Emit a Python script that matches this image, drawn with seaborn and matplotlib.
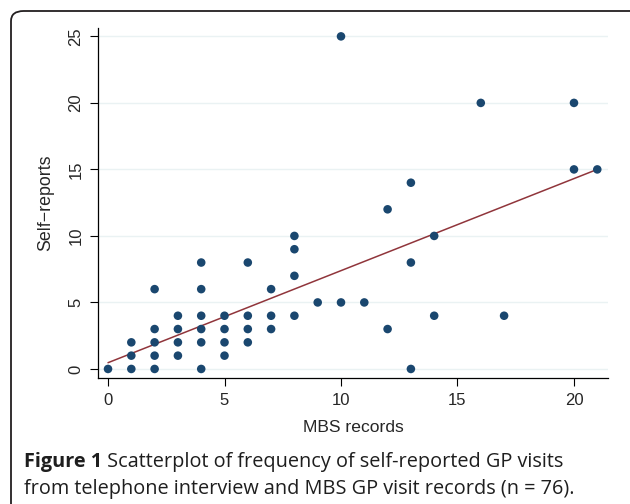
import matplotlib
matplotlib.use("Agg")
import matplotlib.pyplot as plt
import seaborn as sns
import numpy as np
import pandas as pd
from matplotlib.patches import FancyBboxPatch

# ---- data ----
mbs_records = [0, 1, 1, 1, 2, 2, 2, 2, 2, 3, 3, 3, 3,
               4, 4, 4, 4, 4, 4, 5, 5, 5, 5, 6, 6, 6, 6,
               7, 7, 7, 8, 8, 8, 8, 9, 10, 10, 11, 12, 12,
               13, 13, 13, 14, 14, 16, 17, 20, 20, 21]
self_reports = [0, 0, 1, 2, 0, 1, 2, 3, 6, 1, 2, 3, 4,
                0, 2, 3, 4, 6, 8, 1, 2, 3, 4, 2, 3, 4, 8,
                3, 4, 6, 4, 7, 9, 10, 5, 5, 25, 5, 3, 12,
                0, 8, 14, 4, 10, 20, 4, 15, 20, 15]
fit_intercept = 0.47
fit_slope = 0.692
fit_x_range = [0, 21]
x_ticks = [0, 5, 10, 15, 20]
y_ticks = [0, 5, 10, 15, 20, 25]
x_label = "MBS records"
y_label = "Self\u2212reports"
caption_bold = "Figure 1"
caption_line1 = " Scatterplot of frequency of self-reported GP visits"
caption_line2 = "from telephone interview and MBS GP visit records (n = 76)."

df = pd.DataFrame({"mbs": mbs_records, "self": self_reports})
fit_df = pd.DataFrame({"x": fit_x_range,
                       "y": [fit_intercept + fit_slope * v for v in fit_x_range]})

sns.set_theme(style="white")
plt.rcParams["font.family"] = ["Liberation Sans", "DejaVu Sans"]

W, H = 630, 504
fig = plt.figure(figsize=(W / 100, H / 100), dpi=100)

def px(x0, y0, x1, y1):
    return [x0 / W, 1 - y1 / H, (x1 - x0) / W, (y1 - y0) / H]

ax = fig.add_axes(px(98, 28, 608, 378))

navy = "#1a476f"
maroon = "#90353b"
grid_c = "#eaf2f3"

for yv in y_ticks:
    ax.axhline(yv, color=grid_c, lw=1.0, zorder=0)

sns.lineplot(data=fit_df, x="x", y="y", ax=ax, color=maroon, lw=1.1, zorder=2)
sns.scatterplot(data=df, x="mbs", y="self", ax=ax, color=navy, s=38,
                edgecolor="none", linewidth=0, zorder=3)

ax.set_xlim(-0.43, 21.46)
ax.set_ylim(-0.68, 25.63)
ax.set_xticks(x_ticks)
ax.set_yticks(y_ticks)
ax.set_xticklabels([str(v) for v in x_ticks], fontsize=12)
ax.set_yticklabels([str(v) for v in y_ticks], fontsize=12, rotation=90, va="center")
ax.tick_params(axis="both", direction="out", length=5.5, width=0.8, color="black",
               bottom=True, left=True, pad=5)
ax.set_xlabel(x_label, fontsize=12.6, labelpad=9)
ax.set_ylabel(y_label, fontsize=12.8, labelpad=10)
for side in ["top", "right"]:
    ax.spines[side].set_visible(False)
for side in ["left", "bottom"]:
    ax.spines[side].set_color("black")
    ax.spines[side].set_linewidth(0.9)
ax.grid(False)

# frame around figure
frame = FancyBboxPatch((11 / W, -0.2), 1.2, (H - 11) / H + 0.2,
                       boxstyle="round,pad=0,rounding_size=0.02",
                       transform=fig.transFigure, fill=False,
                       edgecolor="#231f20", lw=1.3, clip_on=False)
fig.patches.append(frame)

cap_font = ["Open Sans", "DejaVu Sans"]
cap_color = "#1e1e1e"
cap_size = 14.3
t1 = fig.text(24 / W, 1 - 462 / H, caption_bold, fontsize=cap_size, fontweight="bold",
              family=cap_font, color=cap_color, va="center", ha="left")
fig.canvas.draw()
bb = t1.get_window_extent()
fig.text(bb.x1 / W, 1 - 462 / H, caption_line1, fontsize=cap_size,
         family=cap_font, color=cap_color, va="center", ha="left")
fig.text(24 / W, 1 - 489 / H, caption_line2, fontsize=cap_size,
         family=cap_font, color=cap_color, va="center", ha="left")

fig.savefig("out.png", dpi=100)
